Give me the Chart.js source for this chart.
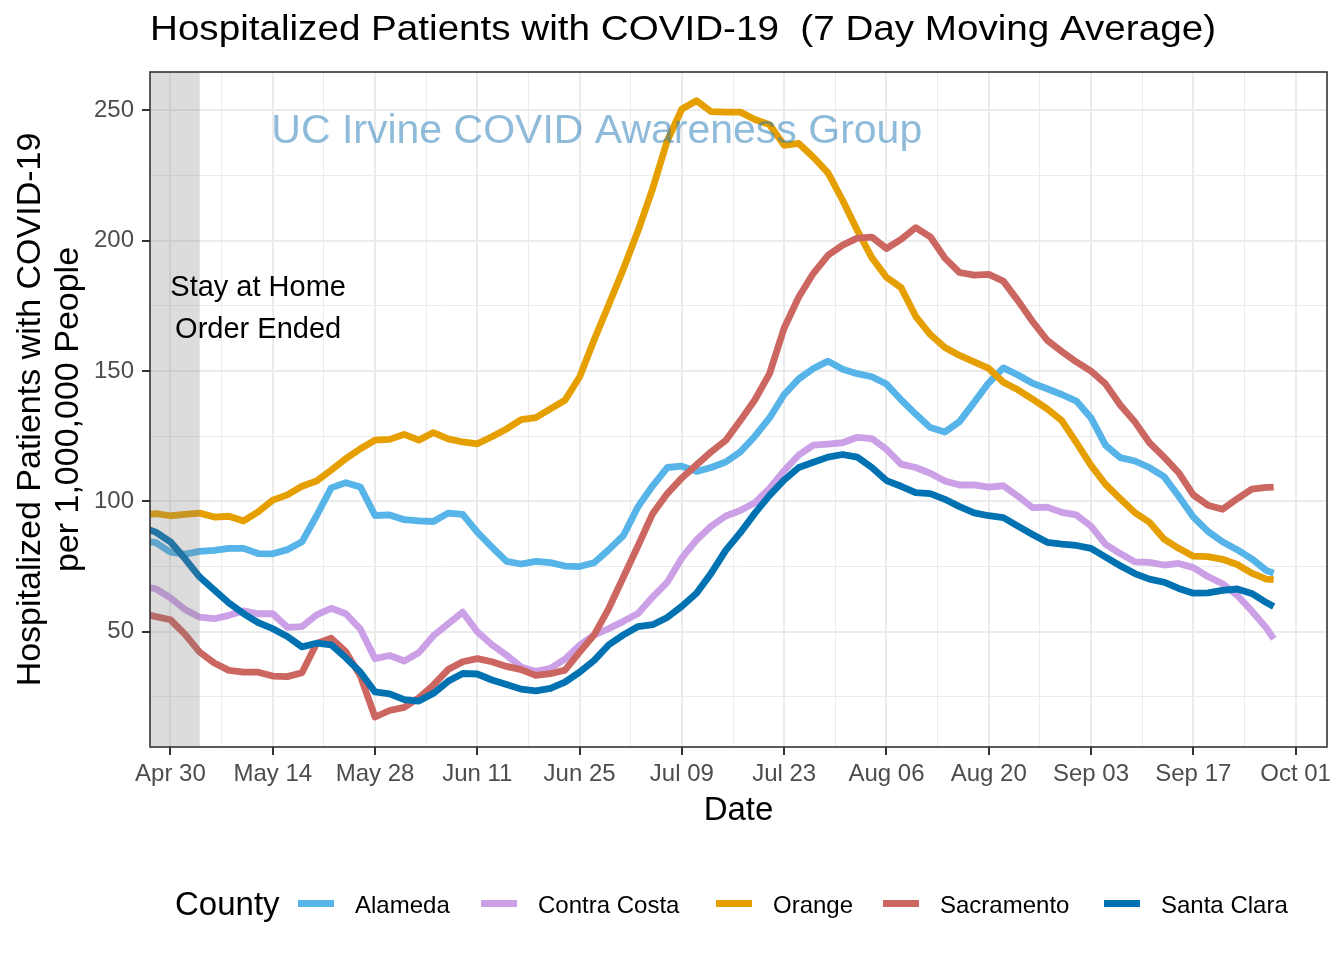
<!DOCTYPE html>
<html>
<head>
<meta charset="utf-8">
<script src="https://cdn.jsdelivr.net/npm/chart.js"></script>
<style>
html,body{margin:0;padding:0;background:#fff;}
#wrap{width:1344px;height:960px;position:relative;}
canvas{display:block;}
</style>
</head>
<body>
<div id="wrap"><canvas id="c" width="1344" height="960"></canvas></div>
<script>
// ---------------- DATA ----------------
const dates = [
  "2020-04-27","2020-04-28","2020-04-30",
  "2020-05-02","2020-05-04","2020-05-06","2020-05-08","2020-05-10","2020-05-12","2020-05-14","2020-05-16","2020-05-18","2020-05-20","2020-05-22","2020-05-24","2020-05-26","2020-05-28","2020-05-30",
  "2020-06-01","2020-06-03","2020-06-05","2020-06-07","2020-06-09","2020-06-11","2020-06-13","2020-06-15","2020-06-17","2020-06-19","2020-06-21","2020-06-23","2020-06-25","2020-06-27","2020-06-29",
  "2020-07-01","2020-07-03","2020-07-05","2020-07-07","2020-07-09","2020-07-11","2020-07-13","2020-07-15","2020-07-17","2020-07-19","2020-07-21","2020-07-23","2020-07-25","2020-07-27","2020-07-29","2020-07-31",
  "2020-08-02","2020-08-04","2020-08-06","2020-08-08","2020-08-10","2020-08-12","2020-08-14","2020-08-16","2020-08-18","2020-08-20","2020-08-22","2020-08-24","2020-08-26","2020-08-28","2020-08-30",
  "2020-09-01","2020-09-03","2020-09-05","2020-09-07","2020-09-09","2020-09-11","2020-09-13","2020-09-15","2020-09-17","2020-09-19","2020-09-21","2020-09-23","2020-09-25","2020-09-27","2020-09-28"
];

const counties = ["Alameda", "Contra Costa", "Orange", "Sacramento", "Santa Clara"];

const alameda = [84.6,84.2,80.5,79.8,80.8,81.2,82,82,80,79.9,81.5,84.5,94.5,105.2,107.2,105.5,94.6,94.8,93,92.5,92.3,95.5,95,88.2,82.5,77,76,77,76.5,75.2,75,76.5,81.5,86.9,98,106,113,113.5,111.5,113,115.1,119,125,132,141,147,151,153.8,150.7,149,147.8,145,139,133.5,128.3,126.6,130.6,138,145.5,151.2,148.5,145.3,143.2,141,138.5,132,121.5,116.8,115.5,113,109.5,102,94,88.5,84.5,81.5,78,73.5,72.5];

const contraCosta = [67,66.5,63,58.5,55.6,55,56.3,58,56.9,56.9,51.7,52,56.5,59,56.9,51,39.7,40.9,38.8,42,48.5,53,57.5,50,45,41,36.5,34.8,36,39.5,44.8,48.8,51.2,54,57,63.3,69,78.3,85.2,90.5,94.4,96.5,99.5,105,111.8,117.8,121.6,122,122.5,124.6,124.1,120,114.3,113,110.8,107.8,106.3,106.3,105.5,106,102,97.6,97.8,95.8,94.8,90.5,83.5,80,76.8,76.6,75.6,76.2,74.6,71.2,68.4,64,58,51.5,47.3];

const orange = [95,95.3,94.5,95,95.5,94,94.3,92.5,96,100.5,102.5,105.8,107.8,112,116.4,120.2,123.5,123.8,125.7,123.5,126.4,124,122.8,122.1,124.8,127.8,131.4,132.1,135.5,138.8,147.7,162,175.5,189.2,203.8,220,238.3,250.5,253.7,249.5,249.3,249.3,246.5,244.5,236.6,237.3,232,226,215.5,204,193.5,186,182,171,164,159,156,153.5,151,145.7,142.8,139.2,135.5,131,122.5,113.8,106.5,101,95.7,92,85.5,82,79,78.8,77.8,75.8,72.5,70.2,70];

const sacramento = [56.5,55.8,54.6,49,42.2,38,35.2,34.5,34.5,33,32.8,34.3,45.5,47.5,42.3,33,17.3,19.8,21,24.7,29.6,35.5,38.5,39.7,38.5,36.7,35.5,33.3,33.9,35.3,42.2,48.8,59,71,83,95.3,103,109,114,119,123.4,131,139,149,166.5,178.4,187.5,194.4,198.3,201,201.4,197,200.5,205,201.5,193.3,187.8,186.8,187.1,184.5,177,169,161.8,157.5,153.5,150,145,137,130.5,122.5,117,111,102.5,98.5,97,101,104.7,105.4,105.5];

const santaClara = [89.2,88.2,84.5,78,71,66,61,57,53.5,51.2,48.2,44.2,45.6,45,40,34.5,26.9,26.2,24,23.4,26.4,31,34,33.8,31.5,29.8,28,27.3,28.3,30.7,34.5,39,45,48.8,52,52.7,55.5,59.8,64.8,72.4,81.2,88,95.5,102.3,108.2,113,115,117,118,117,113,108,105.8,103.4,103,100.8,98,95.6,94.5,93.8,90.5,87.3,84.3,83.6,83.1,82,78.6,75.3,72.3,70.2,69,66.6,64.8,64.9,65.9,66.4,64.7,61.2,59.7];

const seriesValues = [alameda, contraCosta, orange, sacramento, santaClara];
const seriesColors = ["#56B4E9", "#CCA0E6", "#E69F00", "#CC6661", "#0072B2"];

const yTickValues = [50, 100, 150, 200, 250];
const stayHomeEnd = "2020-05-04";
const titleText = "Hospitalized Patients with COVID-19  (7 Day Moving Average)";
const watermarkText = "UC Irvine COVID Awareness Group";
const annotationLines = ["Stay at Home", "Order Ended"];

// ---------------- HELPERS ----------------
const FONT = '"Liberation Sans", Arial, Helvetica, sans-serif';
const ORIGIN = Date.UTC(2020, 3, 30);
const MONTHS = ["Jan","Feb","Mar","Apr","May","Jun","Jul","Aug","Sep","Oct","Nov","Dec"];
function dayOf(s) {
  const p = s.split("-").map(Number);
  return Math.round((Date.UTC(p[0], p[1] - 1, p[2]) - ORIGIN) / 86400000);
}
function labelOf(d) {
  const dt = new Date(ORIGIN + d * 86400000);
  return MONTHS[dt.getUTCMonth()] + " " + String(dt.getUTCDate()).padStart(2, "0");
}
const xs = dates.map(dayOf);

const datasets = counties.map((name, i) => ({
  label: name,
  data: xs.map((x, k) => ({ x: x, y: seriesValues[i][k] })),
  borderColor: seriesColors[i],
  backgroundColor: seriesColors[i],
  borderWidth: 6.8,
  pointRadius: 0,
  pointHoverRadius: 0,
  tension: 0,
  fill: false,
  borderJoinStyle: "round",
  borderCapStyle: "butt",
  clip: 0,
  order: counties.length - i
}));

const isMajorX = v => Math.abs(v % 14) < 1e-6;
const isMajorY = v => Math.abs(v % 50) < 1e-6;

const decor = {
  id: "decor",
  beforeDraw(chart) {
    const ctx = chart.ctx;
    ctx.save();
    ctx.fillStyle = "#ffffff";
    ctx.fillRect(0, 0, chart.width, chart.height);
    ctx.restore();
  },
  afterDatasetsDraw(chart) {
    const { ctx, chartArea: a, scales: { x, y } } = chart;
    ctx.save();
    // shaded stay-at-home period (drawn over the lines, semi transparent)
    const xe = x.getPixelForValue(dayOf(stayHomeEnd));
    ctx.fillStyle = "rgba(127,127,127,0.27)";
    ctx.fillRect(a.left, a.top, xe - a.left, a.bottom - a.top);

    // annotation
    ctx.fillStyle = "#000";
    ctx.font = "29px " + FONT;
    ctx.textAlign = "center";
    ctx.textBaseline = "alphabetic";
    const ax = x.getPixelForValue(12);
    ctx.fillText(annotationLines[0], ax, y.getPixelForValue(178.6));
    ctx.fillText(annotationLines[1], ax, y.getPixelForValue(162.8));

    // watermark
    ctx.font = "41px " + FONT;
    ctx.textAlign = "left";
    ctx.fillStyle = "rgba(31,120,183,0.5)";
    ctx.fillText(watermarkText, x.getPixelForValue(13.8), y.getPixelForValue(237.4));

    // panel border
    ctx.strokeStyle = "#333333";
    ctx.lineWidth = 1.6;
    ctx.strokeRect(a.left, a.top, a.right - a.left, a.bottom - a.top);
    ctx.restore();
  },
  afterDraw(chart) {
    const ctx = chart.ctx;
    ctx.save();
    // title
    ctx.font = "35px " + FONT;
    ctx.fillStyle = "#000";
    ctx.textAlign = "left";
    ctx.textBaseline = "alphabetic";
    const w = ctx.measureText(titleText).width;
    ctx.translate(150, 40);
    ctx.scale(1066 / w, 1);
    ctx.fillText(titleText, 0, 0);
    ctx.restore();

    // legend
    ctx.save();
    ctx.textBaseline = "alphabetic";
    ctx.textAlign = "left";
    ctx.fillStyle = "#000";
    ctx.font = "33px " + FONT;
    ctx.fillText("County", 175, 915);
    const swX = [298, 481, 716, 883, 1104];
    ctx.font = "24px " + FONT;
    counties.forEach((name, i) => {
      ctx.fillStyle = seriesColors[i];
      ctx.fillRect(swX[i], 900, 36, 7);
      ctx.fillStyle = "#000";
      ctx.fillText(name, swX[i] + 57, 913);
    });
    ctx.restore();
  }
};

new Chart(document.getElementById("c"), {
  type: "line",
  data: { datasets },
  plugins: [decor],
  options: {
    responsive: false,
    animation: false,
    devicePixelRatio: 1,
    layout: { padding: { top: 72, right: 17, left: 0, bottom: 0 } },
    plugins: { legend: { display: false }, title: { display: false }, tooltip: { enabled: false } },
    scales: {
      x: {
        type: "linear",
        min: -2.8,
        max: 158.3,
        afterFit(s) { s.height = 213; s.paddingLeft = 0; s.paddingRight = 0; },
        border: { display: false },
        grid: {
          color: "#EBEBEB",
          lineWidth: c => (c.tick && isMajorX(c.tick.value)) ? 2 : 1,
          tickColor: c => (c.tick && isMajorX(c.tick.value)) ? "#333333" : "rgba(0,0,0,0)",
          tickLength: 8,
          tickWidth: 2,
          drawTicks: true
        },
        ticks: {
          stepSize: 7,
          includeBounds: false,
          autoSkip: false,
          maxRotation: 0,
          minRotation: 0,
          padding: 5,
          color: "#4D4D4D",
          font: { family: FONT, size: 24 },
          callback: v => isMajorX(v) ? labelOf(v) : ""
        },
        title: {
          display: true,
          text: "Date",
          color: "#000",
          font: { family: FONT, size: 33, lineHeight: 1.15 },
          padding: { top: 0, bottom: 130 }
        }
      },
      y: {
        type: "linear",
        min: 5.8,
        max: 264.7,
        afterFit(s) { s.width = 150; s.paddingTop = 0; s.paddingBottom = 0; },
        border: { display: false },
        grid: {
          color: "#EBEBEB",
          lineWidth: c => (c.tick && isMajorY(c.tick.value)) ? 2 : 1,
          tickColor: c => (c.tick && isMajorY(c.tick.value)) ? "#333333" : "rgba(0,0,0,0)",
          tickLength: 8,
          tickWidth: 2,
          drawTicks: true
        },
        ticks: {
          stepSize: 25,
          includeBounds: false,
          autoSkip: false,
          padding: 8,
          color: "#4D4D4D",
          font: { family: FONT, size: 24 },
          callback: v => yTickValues.includes(v) ? String(v) : ""
        },
        title: {
          display: true,
          text: ["Hospitalized Patients with COVID-19", "per 1,000,000 People"],
          color: "#000",
          font: { family: FONT, size: 34, lineHeight: 1.12 },
          padding: { top: 12, bottom: 0 }
        }
      }
    }
  }
});
</script>
</body>
</html>
